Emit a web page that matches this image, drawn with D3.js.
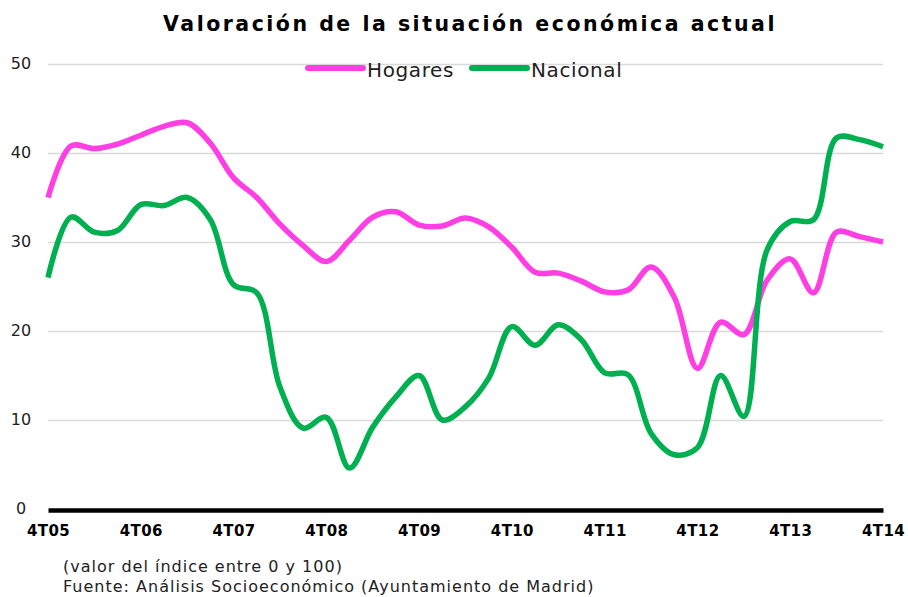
<!DOCTYPE html>
<html>
<head>
<meta charset="utf-8">
<script src="https://cdn.jsdelivr.net/npm/d3@7"></script>
<style>
  body { margin: 0; background: #fff; }
  text { font-family: "DejaVu Sans", Verdana, sans-serif; fill: #222; }
</style>
</head>
<body>
<script>
// quarters 4T05 .. 4T14
var quarters = d3.range(37);
var tickLabels = ["4T05","4T06","4T07","4T08","4T09","4T10","4T11","4T12","4T13","4T14"];

var hogares = [35, 40.8, 40.5, 41.0, 42, 43, 43.4, 41.1, 37.2, 35, 32, 29.6, 27.8, 30.2, 32.8, 33.4, 31.9, 31.8, 32.7, 31.7, 29.4, 26.6, 26.5, 25.6, 24.4, 24.6, 27.2, 23.8, 15.8, 21, 19.6, 25.7, 28.1, 24.3, 31.1, 30.6, 30.0];
var nacional = [26, 32.8, 31.1, 31.3, 34.2, 34.1, 35, 32.5, 25.2, 24.3, 13.7, 9.1, 10.3, 4.6, 9.2, 12.6, 15, 10, 11.5, 14.7, 20.5, 18.4, 20.7, 19, 15.3, 15.1, 8.5, 6.1, 6.9, 15, 10.4, 29.1, 32.3, 32.5, 41.7, 41.5, 40.7];

var series = [
  {name: "Hogares", values: hogares, color: "#ff3ee3"},
  {name: "Nacional", values: nacional, color: "#00b050"}
];

var W = 908, H = 597;
var margin = {top: 64, right: 25, bottom: 88, left: 48};
var width = W - margin.left - margin.right,
    height = H - margin.top - margin.bottom;

var svg = d3.select("body").append("svg")
    .attr("width", W)
    .attr("height", H);

var g = svg.append("g")
    .attr("transform", "translate(" + margin.left + "," + margin.top + ")");

var x = d3.scaleLinear().domain([0, 36]).range([0, width]);
var y = d3.scaleLinear().domain([0, 50]).range([height, 0]);

// gridlines
g.append("g")
  .call(d3.axisLeft(y).tickValues([10, 20, 30, 40, 50]).tickSize(-width).tickFormat(""))
  .call(s => s.select(".domain").remove())
  .call(s => s.selectAll("line").attr("stroke", "#d9d9d9").attr("stroke-width", 1.5));

// y labels
g.selectAll(".ylab")
  .data([0, 10, 20, 30, 40, 50])
  .enter().append("text")
    .attr("x", -27)
    .attr("y", d => y(d) + 5)
    .attr("text-anchor", "middle")
    .style("font-size", "16px")
    .text(d => d);

// lines
var line = d3.line()
    .x((d, i) => x(i))
    .y(d => y(d))
    .curve(d3.curveCatmullRom.alpha(0.5));

g.selectAll(".series")
  .data(series)
  .enter().append("path")
    .attr("fill", "none")
    .attr("stroke", d => d.color)
    .attr("stroke-width", 5.5)
    .attr("stroke-linejoin", "round")
    .attr("d", d => line(d.values));

// x axis
var xAxis = d3.axisBottom(x)
    .tickValues(d3.range(0, 37, 4))
    .tickSize(0)
    .tickFormat((d, i) => tickLabels[i]);

g.append("g")
  .attr("transform", "translate(0," + (height + 1) + ")")
  .call(xAxis)
  .call(s => s.select(".domain").attr("stroke", "#000").attr("stroke-width", 4.5))
  .call(s => s.selectAll("text")
      .attr("dy", "1.55em")
      .style("font-family", "'DejaVu Sans', Verdana, sans-serif")
      .style("font-weight", "bold")
      .style("font-size", "15px")
      .style("letter-spacing", "0.4px")
      .style("fill", "#000"));

// title
svg.append("text")
  .attr("x", 470)
  .attr("y", 31)
  .attr("text-anchor", "middle")
  .style("font-size", "20.5px")
  .style("font-weight", "bold")
  .style("letter-spacing", "2.5px")
  .style("fill", "#000")
  .text("Valoración de la situación económica actual");

// legend
var legend = svg.append("g");
var legX = [308, 472];
series.forEach(function(s, i) {
  legend.append("line")
    .attr("x1", legX[i]).attr("x2", legX[i] + 55)
    .attr("y1", 68).attr("y2", 68)
    .attr("stroke", s.color)
    .attr("stroke-width", 6)
    .attr("stroke-linecap", "round");
  legend.append("text")
    .attr("x", legX[i] + 59)
    .attr("y", 77)
    .style("font-size", "20px")
    .style("letter-spacing", "0.6px")
    .text(s.name);
});

// footnotes
svg.append("text")
  .attr("x", 63).attr("y", 572)
  .style("font-size", "16px")
  .style("letter-spacing", "1px")
  .text("(valor del índice entre 0 y 100)");
svg.append("text")
  .attr("x", 63).attr("y", 592)
  .style("font-size", "16px")
  .style("letter-spacing", "1px")
  .text("Fuente: Análisis Socioeconómico (Ayuntamiento de Madrid)");
</script>
</body>
</html>
